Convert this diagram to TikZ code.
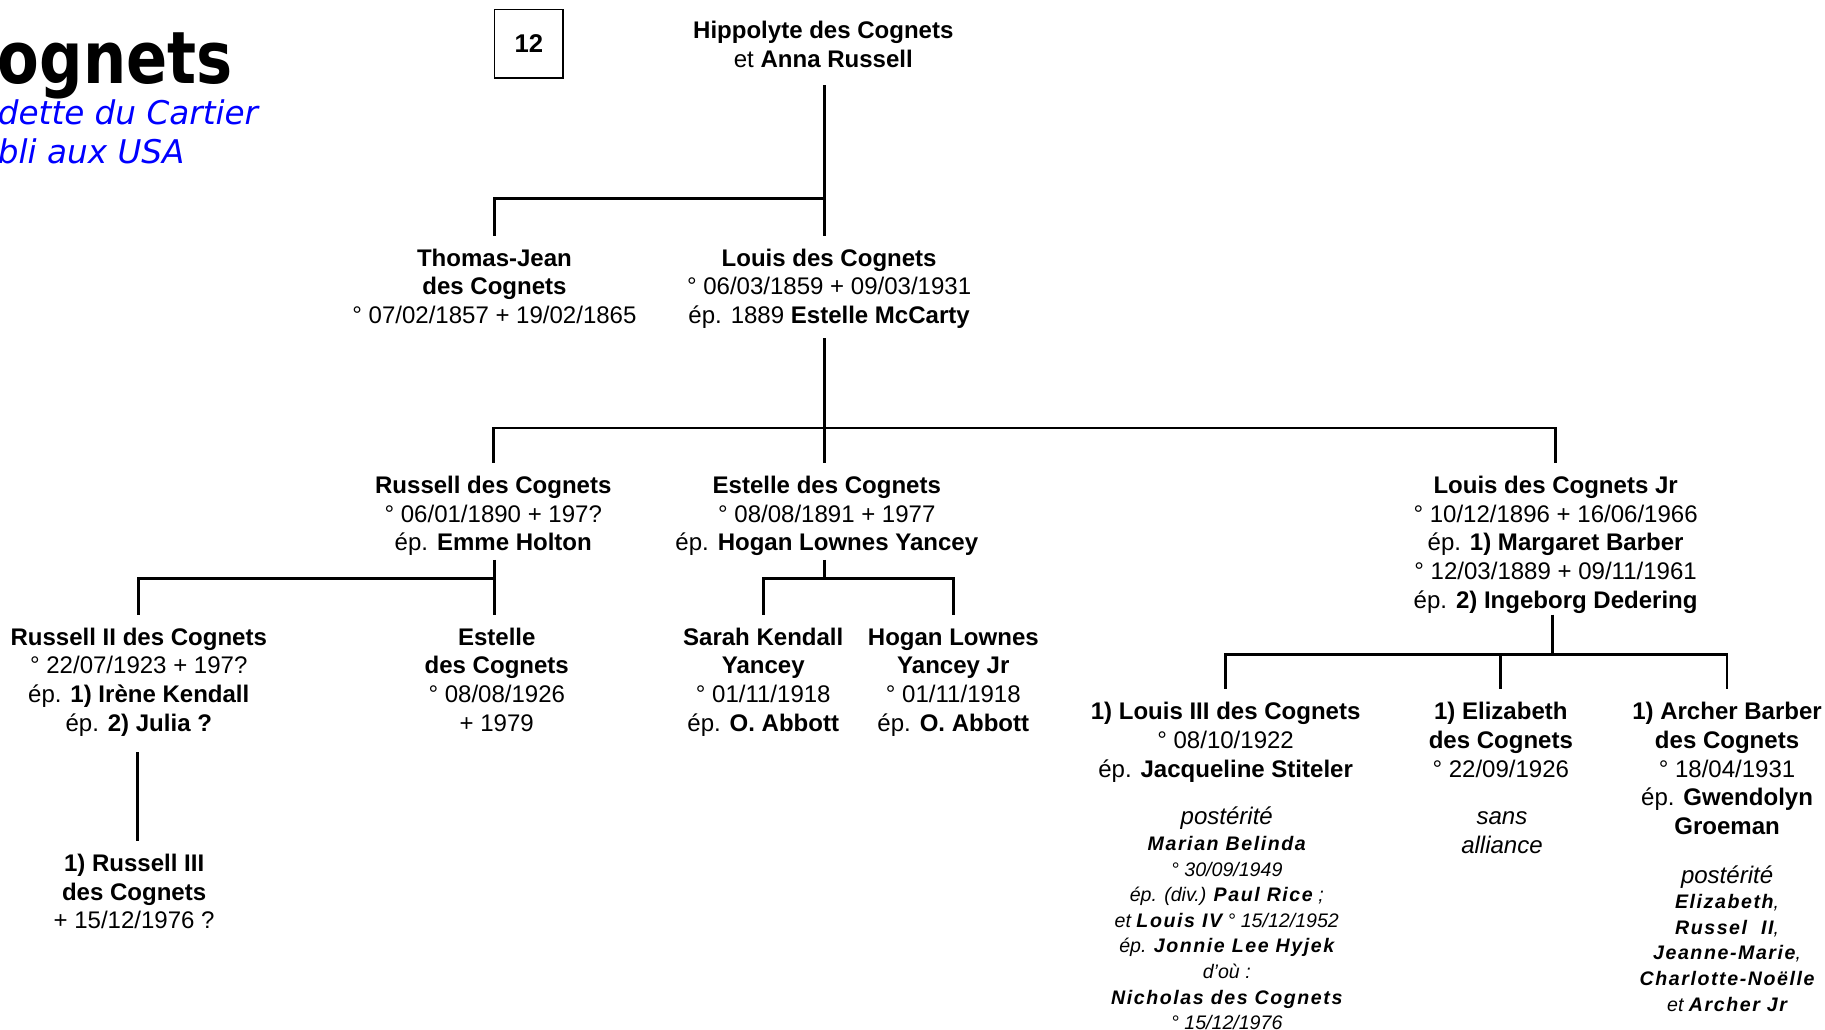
\documentclass[tikz,border=0pt]{standalone}
\usepackage{fontspec}
\setmainfont{Liberation Sans}
\newfontfamily\ttlfont{DejaVu Sans}
\newfontfamily\spfont{Liberation Sans}[LetterSpace=8]
\definecolor{tblue}{RGB}{0,0,255}
\newcommand{\sbn}[1]{{\spfont\bfseries #1}}
\newcommand{\tp}{\rule{0pt}{26pt}}
\newcommand{\ts}{\rule{0pt}{20pt}}
\tikzset{
  conn/.style={line width=2.4pt, line join=miter},
  person/.style={anchor=north, align=center, inner xsep=0pt, inner ysep=0pt,
    font=\fontsize{20.6}{24.6}\selectfont},
  note/.style={anchor=north, align=center, inner xsep=0pt, inner ysep=0pt,
    font=\fontsize{20.6}{24.6}\selectfont\itshape},
  smallnote/.style={anchor=north, align=center, inner xsep=0pt, inner ysep=0pt,
    font=\fontsize{16.8}{22}\selectfont\itshape},
  numbox/.style={draw, line width=1.3pt, minimum width=59pt, minimum height=59pt,
    inner sep=0pt, font=\fontsize{22}{22}\selectfont\bfseries},
  titlebig/.style={anchor=base west, inner sep=0pt, font=\ttlfont\bfseries\fontsize{62}{62}\selectfont},
  titlesub/.style={anchor=base west, inner sep=0pt, text=tblue, font=\ttlfont\itshape\fontsize{28}{28}\selectfont}
}
\begin{document}
\begin{tikzpicture}[x=1pt,y=-1pt]
\useasboundingbox (0,0) rectangle (1565,883);
% title
\node[titlebig] (ttl) at (-2,72) {\scalebox{0.84}[1]{ognets}};
\node[titlesub] (sub1) at (-2,107) {dette du Cartier};
\node[titlesub] (sub2) at (-2,140) {bli aux USA};
\node[numbox] (num) at (453.5,37.5) {12};
% persons
\node[person] (hip) at (706,7) {\tp\textbf{Hippolyte des Cognets}\\et \textbf{Anna Russell}};
\node[person] (tj) at (424,202) {\tp\textbf{Thomas-Jean}\\\textbf{des Cognets}\\° 07/02/1857 + 19/02/1865};
\node[person] (lou) at (711,202) {\tp\textbf{Louis des Cognets}\\° 06/03/1859 + 09/03/1931\\ép. 1889 \textbf{Estelle McCarty}};
\node[person] (rus) at (423,397) {\tp\textbf{Russell des Cognets}\\° 06/01/1890 + 197?\\ép. \textbf{Emme Holton}};
\node[person] (est) at (709,397) {\tp\textbf{Estelle des Cognets}\\° 08/08/1891 + 1977\\ép. \textbf{Hogan Lownes Yancey}};
\node[person] (ljr) at (1334,397) {\tp\textbf{Louis des Cognets Jr}\\° 10/12/1896 + 16/06/1966\\ép. \textbf{1) Margaret Barber}\\° 12/03/1889 + 09/11/1961\\ép. \textbf{2) Ingeborg Dedering}};
\node[person] (r2) at (119,527) {\tp\textbf{Russell II des Cognets}\\° 22/07/1923 + 197?\\ép. \textbf{1) Irène Kendall}\\ép. \textbf{2) Julia ?}};
\node[person] (est2) at (426,527) {\tp\textbf{Estelle}\\\textbf{des Cognets}\\° 08/08/1926\\+ 1979};
\node[person] (sar) at (654.5,527) {\tp\textbf{Sarah Kendall}\\\textbf{Yancey}\\° 01/11/1918\\ép. \textbf{O. Abbott}};
\node[person] (hog) at (817.5,527) {\tp\textbf{Hogan Lownes}\\\textbf{Yancey Jr}\\° 01/11/1918\\ép. \textbf{O. Abbott}};
\node[person] (r3) at (115,721) {\tp\textbf{1) Russell III}\\\textbf{des Cognets}\\+ 15/12/1976 ?};
\node[person] (l3) at (1051,591) {\tp\textbf{1) Louis III des Cognets}\\° 08/10/1922\\ép. \textbf{Jacqueline Stiteler}};
\node[person] (eli) at (1287,591) {\tp\textbf{1) Elizabeth}\\\textbf{des Cognets}\\° 22/09/1926};
\node[person] (arc) at (1481,591) {\tp\textbf{1) Archer Barber}\\\textbf{des Cognets}\\° 18/04/1931\\ép. \textbf{Gwendolyn}\\\textbf{Groeman}};
% notes
\node[note] (l3post) at (1052,681) {\tp postérité};
\node[smallnote] (l3desc) at (1052,709) {\ts\sbn{Marian Belinda}\\° 30/09/1949\\ép. (div.) \sbn{Paul Rice} ;\\et \sbn{Louis IV} ° 15/12/1952\\ép. \sbn{Jonnie Lee Hyjek}\\d’où :\\\sbn{Nicholas des Cognets}\\° 15/12/1976};
\node[note] (elinote) at (1288,681) {\tp sans\\alliance};
\node[note] (arcpost) at (1481,731) {\tp postérité};
\node[smallnote] (arcdesc) at (1481,759) {\ts\sbn{Elizabeth},\\\sbn{Russel~~II},\\\sbn{Jeanne-Marie},\\\sbn{Charlotte-Noëlle}\\et \sbn{Archer Jr}};
% connectors
\coordinate (hipS) at (707,73);
\coordinate (j1) at (707,170);
\draw[conn] (hipS) -- (hipS |- lou.north);
\draw[conn] (j1) -| (tj.north);
\coordinate (louS) at (707,290);
\coordinate (j2) at (707,367);
\draw[conn] (louS) -- (louS |- est.north);
\draw[conn] (j2) -| (rus.north);
\draw[conn] (j2) -| (ljr.north);
\coordinate (rusS) at (424,480);
\coordinate (j3) at (424,496);
\draw[conn] (rusS) -- (rusS |- est2.north);
\draw[conn] (j3) -| (r2.north);
\coordinate (estS) at (707,480);
\coordinate (j4) at (707,496);
\draw[conn] (estS) -- (j4);
\draw[conn] (j4) -| (sar.north);
\draw[conn] (j4) -| (hog.north);
\coordinate (r2S) at (118,645);
\draw[conn] (r2S) -- (r2S |- r3.north);
\coordinate (ljrS) at (1331,527);
\coordinate (j5) at (1331,561);
\draw[conn] (ljrS) -- (j5);
\draw[conn] (j5) -| (l3.north);
\draw[conn] (j5) -| (eli.north);
\draw[conn] (j5) -| (arc.north);
\end{tikzpicture}
\end{document}
